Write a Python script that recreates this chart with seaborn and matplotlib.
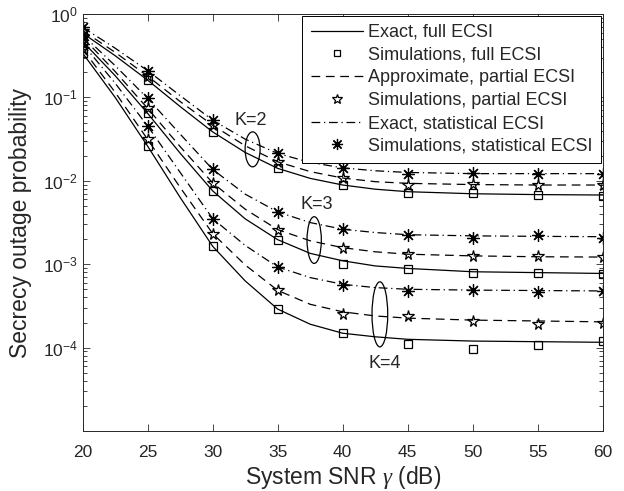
import numpy as np
import pandas as pd
import matplotlib
matplotlib.use("Agg")
import matplotlib.pyplot as plt
import seaborn as sns
from matplotlib.lines import Line2D
from matplotlib.patches import Ellipse
from matplotlib.ticker import LogLocator, NullFormatter

# SNR grid of the analytical curves and of the simulation points
snr_theory = [20, 22.5, 25, 27.5, 30, 32.5, 35, 37.5, 40, 42.5, 45, 50, 55, 60]
snr_sim = [20, 25, 30, 35, 40, 45, 50, 55, 60]

# analytical curves
k2_full = [0.589, 0.316, 0.161, 0.0776, 0.0386, 0.0219, 0.0141, 0.0107, 0.00891, 0.00794, 0.00741, 0.00700, 0.00684, 0.00676]
k2_partial = [0.631, 0.347, 0.180, 0.0891, 0.0465, 0.0263, 0.0169, 0.0129, 0.0108, 0.00977, 0.00933, 0.00902, 0.00891, 0.00891]
k2_stat = [0.692, 0.389, 0.209, 0.105, 0.0533, 0.0316, 0.0213, 0.0166, 0.0143, 0.0132, 0.0126, 0.0122, 0.0122, 0.0122]
k3_full = [0.468, 0.182, 0.0643, 0.0214, 0.00757, 0.00350, 0.00197, 0.00135, 0.00110, 0.000955, 0.000891, 0.000813, 0.000794, 0.000776]
k3_partial = [0.525, 0.204, 0.0738, 0.0257, 0.00944, 0.00457, 0.00260, 0.00191, 0.00158, 0.00141, 0.00132, 0.00126, 0.00123, 0.00122]
k3_stat = [0.562, 0.240, 0.0973, 0.0363, 0.0137, 0.00692, 0.00424, 0.00316, 0.00263, 0.00240, 0.00226, 0.00219, 0.00216, 0.00214]
k4_full = [0.339, 0.100, 0.0260, 0.00631, 0.00164, 0.000631, 0.000290, 0.000191, 0.000149, 0.000135, 0.000126, 0.000120, 0.000118, 0.000116]
k4_partial = [0.380, 0.115, 0.0313, 0.00832, 0.00233, 0.000980, 0.000486, 0.000331, 0.000269, 0.000240, 0.000226, 0.000214, 0.000209, 0.000204]
k4_stat = [0.437, 0.148, 0.0452, 0.0126, 0.00352, 0.00168, 0.000927, 0.000692, 0.000575, 0.000525, 0.000501, 0.000490, 0.000484, 0.000479]

# simulation points
k2_full_sim = [0.589, 0.161, 0.0386, 0.0141, 0.00885, 0.00705, 0.00716, 0.00671, 0.00661]
k2_partial_sim = [0.631, 0.180, 0.0465, 0.0169, 0.0107, 0.00903, 0.00912, 0.00891, 0.00891]
k2_stat_sim = [0.692, 0.209, 0.0533, 0.0213, 0.0142, 0.0122, 0.0124, 0.0122, 0.0122]
k3_full_sim = [0.468, 0.0643, 0.00757, 0.00197, 0.00102, 0.000877, 0.000785, 0.000785, 0.000757]
k3_partial_sim = [0.525, 0.0738, 0.00944, 0.00260, 0.00158, 0.00134, 0.00124, 0.00124, 0.00122]
k3_stat_sim = [0.562, 0.0973, 0.0137, 0.00424, 0.00262, 0.00222, 0.00209, 0.00222, 0.00209]
k4_full_sim = [0.339, 0.0260, 0.00164, 0.000290, 0.000149, 0.000111, 0.0000970, 0.000108, 0.000120]
k4_partial_sim = [0.380, 0.0313, 0.00233, 0.000486, 0.000255, 0.000239, 0.000208, 0.000194, 0.000200]
k4_stat_sim = [0.437, 0.0452, 0.00352, 0.000927, 0.000558, 0.000477, 0.000487, 0.000460, 0.000477]

legend_labels = ["Exact, full ECSI", "Simulations, full ECSI", "Approximate, partial ECSI",
                 "Simulations, partial ECSI", "Exact, statistical ECSI", "Simulations, statistical ECSI"]

sns.set_style("ticks")
plt.rcParams["font.family"] = ["Liberation Sans", "DejaVu Sans"]
plt.rcParams["mathtext.fontset"] = "custom"
plt.rcParams["mathtext.it"] = "Liberation Serif:italic"
plt.rcParams["xtick.direction"] = "in"
plt.rcParams["ytick.direction"] = "in"

grey = "#262626"
dashed = (0, (7, 4.5))
dashdot = (0, (7, 3, 1, 3))
asterisk = (8, 2, 0)

fig = plt.figure(figsize=(6.24, 4.91), dpi=100)
ax = fig.add_axes([0.1325, 0.122, 0.8335, 0.8495])

theory = [(k2_full, "-"), (k2_partial, dashed), (k2_stat, dashdot),
          (k3_full, "-"), (k3_partial, dashed), (k3_stat, dashdot),
          (k4_full, "-"), (k4_partial, dashed), (k4_stat, dashdot)]
for vals, ls in theory:
    sns.lineplot(x=snr_theory, y=vals, ax=ax, color="k", linestyle=ls, linewidth=0.9)

sims = [(k2_full_sim, "s", 6), (k2_partial_sim, "*", 8.5), (k2_stat_sim, asterisk, 9),
        (k3_full_sim, "s", 6), (k3_partial_sim, "*", 8.5), (k3_stat_sim, asterisk, 9),
        (k4_full_sim, "s", 6), (k4_partial_sim, "*", 8.5), (k4_stat_sim, asterisk, 9)]
for vals, mk, ms in sims:
    sns.lineplot(x=snr_sim, y=vals, ax=ax, linestyle="none", marker=mk, markersize=ms,
                 markerfacecolor="none", markeredgecolor="k", markeredgewidth=0.9)

ax.set_yscale("log")
ax.set_xlim(20, 60)
ax.set_ylim(1e-5, 1)
ax.set_xticks([20, 25, 30, 35, 40, 45, 50, 55, 60])
ax.set_yticks([1e-4, 1e-3, 1e-2, 1e-1, 1])
ax.yaxis.set_minor_locator(LogLocator(base=10, subs=np.arange(2, 10), numticks=20))
ax.yaxis.set_minor_formatter(NullFormatter())
ax.tick_params(which="both", top=True, right=True, colors=grey, labelsize=12.5, width=0.6)
ax.tick_params(which="major", length=5)
ax.tick_params(which="minor", length=3)
ax.tick_params(axis="x", pad=10)
for sp in ax.spines.values():
    sp.set_color(grey)
    sp.set_linewidth(0.7)

ax.set_xlabel(r"System SNR $\gamma$ (dB)", fontsize=16.5, color=grey, labelpad=3)
ax.set_ylabel("Secrecy outage probability", fontsize=16.5, color=grey, labelpad=8)

# group annotations
for cx, cy, w, h in [(0.3267, 0.6755, 0.0288, 0.0839), (0.4451, 0.458, 0.0275, 0.112),
                     (0.5714, 0.2799, 0.0302, 0.156)]:
    ax.add_patch(Ellipse((cx, cy), w, h, transform=ax.transAxes, fill=False,
                         edgecolor="k", linewidth=0.9))
ax.text(32.9, 0.0524, "K=2", fontsize=13, ha="center", va="center")
ax.text(38.0, 0.0052, "K=3", fontsize=13, ha="center", va="center")
ax.text(43.2, 6.5e-5, "K=4", fontsize=13, ha="center", va="center")

handles = [
    Line2D([], [], color="k", linestyle="-", linewidth=0.9),
    Line2D([], [], color="k", linestyle="none", marker="s", markersize=5, mfc="none", mew=0.9),
    Line2D([], [], color="k", linestyle=dashed, linewidth=0.9),
    Line2D([], [], color="k", linestyle="none", marker="*", markersize=7, mfc="none", mew=0.9),
    Line2D([], [], color="k", linestyle=dashdot, linewidth=0.9),
    Line2D([], [], color="k", linestyle="none", marker=asterisk, markersize=8, mew=0.9),
]
leg = ax.legend(handles, legend_labels, loc="upper right", bbox_to_anchor=(1, 1),
                borderaxespad=0.1, fontsize=13, frameon=True, fancybox=False,
                edgecolor="k", framealpha=1, handlelength=2.9, handletextpad=0.3,
                labelspacing=0.32, borderpad=0.45)
leg.get_frame().set_linewidth(0.7)

fig.savefig("out.png", dpi=100)
